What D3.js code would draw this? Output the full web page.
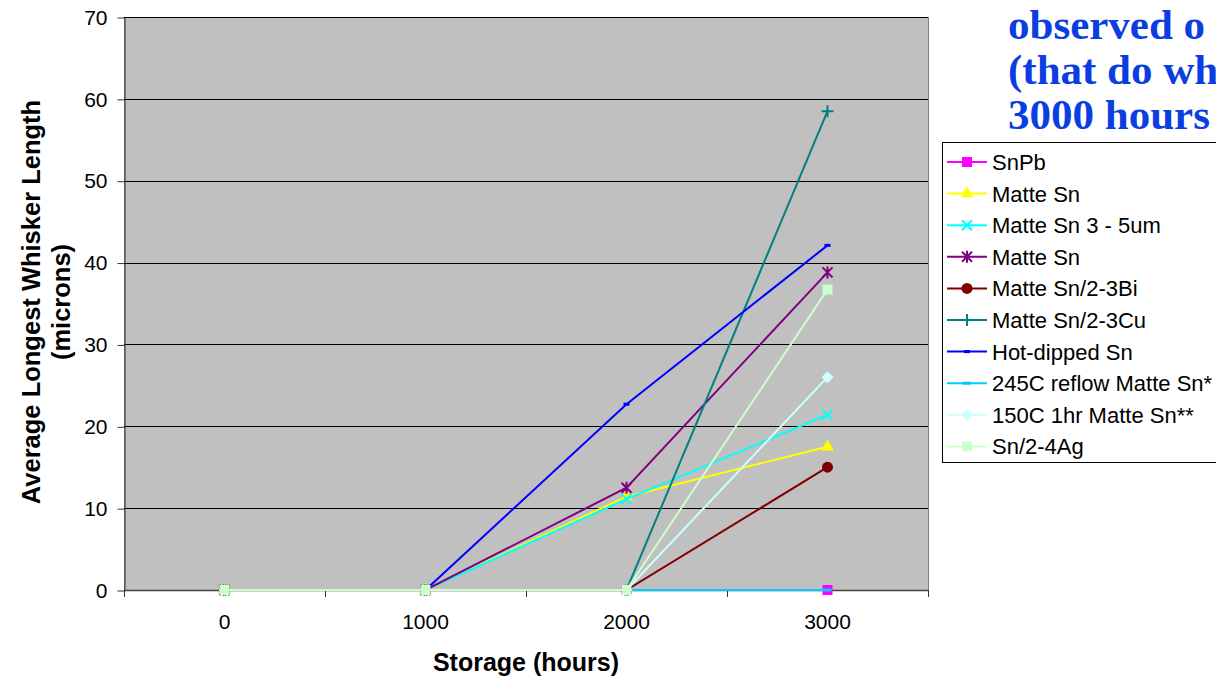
<!DOCTYPE html>
<html>
<head>
<meta charset="utf-8">
<script src="https://cdn.jsdelivr.net/npm/d3@7"></script>
<style>
  body { margin: 0; background: #fff; }
  svg { display: block; }
</style>
</head>
<body>
<svg id="chart"></svg>
<script>
// data
var categories = ["0", "1000", "2000", "3000"];
var seriesNames = ["SnPb", "Matte Sn", "Matte Sn 3 - 5um", "Matte Sn", "Matte Sn/2-3Bi",
  "Matte Sn/2-3Cu", "Hot-dipped Sn", "245C reflow Matte Sn*", "150C 1hr Matte Sn**", "Sn/2-4Ag"];
var snPb = [0, 0, 0, 0];
var matteSn = [0, 0, 11.4, 17.5];
var matteSn35 = [0, 0, 11.1, 21.4];
var matteSnB = [0, 0, 12.5, 38.8];
var matteBi = [0, 0, 0, 15];
var matteCu = [0, 0, 0, 58.5];
var hotDipped = [0, 0, 22.7, 42.1];
var reflow245 = [0, 0, 0, 0];
var bake150 = [0, 0, 0, 26];
var snAg = [0, 0, 0, 36.7];
var yTicks = [0, 10, 20, 30, 40, 50, 60, 70];
var titleLines = ["observed o", "(that do wh", "3000 hours"];

var seriesValues = [snPb, matteSn, matteSn35, matteSnB, matteBi, matteCu, hotDipped, reflow245, bake150, snAg];
var colors = ["#ff00ff", "#ffff00", "#00ffff", "#800080", "#800000", "#008080", "#0000ff", "#00ccff", "#ccffff", "#ccffcc"];
var markers = ["square", "triangle", "x", "star", "circle", "plus", "dash", "dash2", "diamond", "square"];

var width = 1216;
var height = 678;
var plotLeft = 124, plotRight = 928, plotTop = 17, plotBottom = 590;

var svg = d3.select("#chart").attr("width", width).attr("height", height);

var x = d3.scaleBand().domain(categories).range([plotLeft, plotRight]);
var y = d3.scaleLinear().domain([0, 70]).range([plotBottom, plotTop]);
function cx(c) { return x(c) + x.bandwidth() / 2; }

// plot area
svg.append("rect")
  .attr("x", plotLeft + 0.5).attr("y", plotTop + 0.5)
  .attr("width", plotRight - plotLeft).attr("height", plotBottom - plotTop)
  .attr("fill", "#c0c0c0")
  .attr("stroke", "#808080").attr("stroke-width", 1);

// grid
yTicks.forEach(function (t) {
  if (t === 0) return;
  svg.append("line")
    .attr("x1", plotLeft).attr("x2", plotRight)
    .attr("y1", Math.round(y(t)) + 0.5).attr("y2", Math.round(y(t)) + 0.5)
    .attr("stroke", "#000").attr("stroke-width", 1);
});

// y axis
var yAxis = svg.append("g")
  .attr("transform", "translate(" + (plotLeft + 0.5) + ",0.5)")
  .call(d3.axisLeft(y).tickValues(yTicks).tickSize(7).tickSizeOuter(0).tickPadding(10));
yAxis.select(".domain").attr("stroke", "#333");
yAxis.selectAll(".tick line").attr("stroke", "#333");
yAxis.selectAll(".tick text")
  .attr("font-family", "Liberation Sans, Arial, sans-serif")
  .attr("font-size", "21px").attr("fill", "#000");

// x axis line and ticks at band edges
svg.append("line")
  .attr("x1", plotLeft).attr("x2", plotRight)
  .attr("y1", plotBottom + 0.5).attr("y2", plotBottom + 0.5)
  .attr("stroke", "#444").attr("stroke-width", 1.5);
var edges = categories.map(function (c) { return x(c); }).concat([plotRight]);
edges.forEach(function (e) {
  svg.append("line")
    .attr("x1", Math.round(e) + 0.5).attr("x2", Math.round(e) + 0.5)
    .attr("y1", plotBottom).attr("y2", plotBottom + 7)
    .attr("stroke", "#333");
});
categories.forEach(function (c) {
  svg.append("text")
    .attr("x", cx(c)).attr("y", 629)
    .attr("text-anchor", "middle")
    .attr("font-family", "Liberation Sans, Arial, sans-serif")
    .attr("font-size", "21px")
    .text(c);
});

// axis titles
svg.append("text")
  .attr("x", 526).attr("y", 671)
  .attr("text-anchor", "middle")
  .attr("font-family", "Liberation Sans, Arial, sans-serif")
  .attr("font-size", "25px").attr("font-weight", "bold")
  .text("Storage (hours)");

var yTitle = svg.append("text")
  .attr("transform", "translate(0,302) rotate(-90)")
  .attr("text-anchor", "middle")
  .attr("font-family", "Liberation Sans, Arial, sans-serif")
  .attr("font-size", "25.5px").attr("font-weight", "bold");
yTitle.append("tspan").attr("x", 0).attr("y", 40).text("Average Longest Whisker Length");
yTitle.append("tspan").attr("x", 0).attr("y", 70).text("(microns)");

// marker drawing
function drawMarker(g, type, px, py, color) {
  if (type === "square") {
    g.append("rect").attr("x", px - 5).attr("y", py - 5).attr("width", 10).attr("height", 10).attr("fill", color);
  } else if (type === "triangle") {
    g.append("path").attr("d", d3.symbol(d3.symbolTriangle, 70)()).attr("transform", "translate(" + px + "," + py + ")").attr("fill", color);
  } else if (type === "x") {
    g.append("path").attr("d", "M-5,-5L5,5M-5,5L5,-5").attr("transform", "translate(" + px + "," + py + ")")
      .attr("stroke", color).attr("stroke-width", 2).attr("fill", "none");
  } else if (type === "star") {
    g.append("path").attr("d", "M-5,-5L5,5M-5,5L5,-5M0,-6L0,6").attr("transform", "translate(" + px + "," + py + ")")
      .attr("stroke", color).attr("stroke-width", 2).attr("fill", "none");
  } else if (type === "circle") {
    g.append("circle").attr("cx", px).attr("cy", py).attr("r", 5.5).attr("fill", color);
  } else if (type === "plus") {
    g.append("path").attr("d", "M-6,0L6,0M0,-6L0,6").attr("transform", "translate(" + px + "," + py + ")")
      .attr("stroke", color).attr("stroke-width", 2).attr("fill", "none");
  } else if (type === "dash") {
    g.append("rect").attr("x", px - 3).attr("y", py - 1.5).attr("width", 6).attr("height", 3).attr("fill", color);
  } else if (type === "dash2") {
    g.append("rect").attr("x", px - 4).attr("y", py - 1.5).attr("width", 8).attr("height", 3).attr("fill", color);
  } else if (type === "diamond") {
    g.append("path").attr("d", "M0,-6L6,0L0,6L-6,0Z").attr("transform", "translate(" + px + "," + py + ")").attr("fill", color);
  }
}

// series lines and markers
var line = d3.line()
  .x(function (d, i) { return cx(categories[i]); })
  .y(function (d) { return y(d); });

seriesValues.forEach(function (vals, s) {
  var g = svg.append("g");
  g.append("path")
    .attr("d", line(vals))
    .attr("stroke", colors[s]).attr("stroke-width", 2).attr("fill", "none");
  vals.forEach(function (v, i) {
    drawMarker(g, markers[s], cx(categories[i]), y(v), colors[s]);
  });
});

// title (clipped at right edge)
titleLines.forEach(function (t, i) {
  svg.append("text")
    .attr("x", 1008).attr("y", 39 + i * 45)
    .attr("font-family", "Liberation Serif, Times New Roman, serif")
    .attr("font-size", "43px").attr("font-weight", "bold")
    .attr("fill", "#0b3ee0")
    .text(t);
});

// legend
var legend = svg.append("g");
legend.append("rect")
  .attr("x", 942.5).attr("y", 142.5)
  .attr("width", 300).attr("height", 320)
  .attr("fill", "#fff").attr("stroke", "#000").attr("stroke-width", 1);
seriesNames.forEach(function (name, s) {
  var ly = 162 + s * 31.6;
  legend.append("line")
    .attr("x1", 947).attr("x2", 987)
    .attr("y1", ly).attr("y2", ly)
    .attr("stroke", colors[s]).attr("stroke-width", 2);
  drawMarker(legend, markers[s], 967, ly, colors[s]);
  legend.append("text")
    .attr("x", 992).attr("y", ly + 8)
    .attr("font-family", "Liberation Sans, Arial, sans-serif")
    .attr("font-size", "22px")
    .text(name);
});
</script>
</body>
</html>
